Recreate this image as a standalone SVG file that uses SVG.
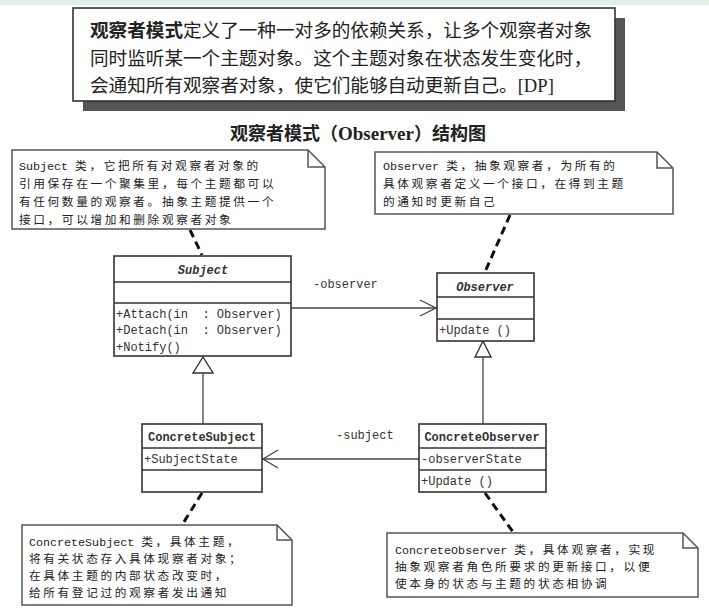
<svg xmlns="http://www.w3.org/2000/svg" width="709" height="610" viewBox="0 0 709 610">
<style>
.cjk{font-family:"Noto Sans CJK SC","Liberation Sans",sans-serif;fill:#222}
.note-t{font-family:"Noto Sans CJK SC",sans-serif;font-size:11.7px;letter-spacing:2.6px;fill:#222}
.lat{font-family:"Liberation Mono",monospace;font-size:11.7px;letter-spacing:0}
.cls{fill:#fff;stroke:#333;stroke-width:1.6}
.div{stroke:#333;stroke-width:1.4}
.mono{font-family:"Liberation Mono",monospace;font-size:12px;fill:#333;white-space:pre}
.note{fill:#fff;stroke:#555;stroke-width:1.5;stroke-linejoin:miter}
.dash{stroke:#111;stroke-width:3;stroke-dasharray:8,5;fill:none}
.conn{stroke:#444;stroke-width:1.3;fill:none}
</style>
<rect x="0" y="0" width="709" height="610" fill="#fff"/>
<rect x="0" y="0" width="709" height="5" fill="#e6efe6"/>
<g id="intro">
<rect x="83" y="18" width="542" height="93" fill="#555"/>
<rect x="73" y="8" width="542" height="93" fill="#fff" stroke="#333" stroke-width="1.6"/>
<text class="cjk" x="90" y="37" font-size="18.6"><tspan font-weight="bold">观察者模式</tspan>定义了一种一对多的依赖关系，让多个观察者对象</text>
<text class="cjk" x="90" y="65" font-size="18.6">同时监听某一个主题对象。这个主题对象在状态发生变化时，</text>
<text class="cjk" x="90" y="92" font-size="18.6">会通知所有观察者对象，使它们能够自动更新自己。<tspan font-family="Liberation Serif">[DP]</tspan></text>
</g>
<g id="title">
<text class="cjk" x="358" y="140" font-size="18" font-weight="bold" text-anchor="middle" fill="#111">观察者模式（<tspan font-family="Liberation Serif" font-size="19">Observer</tspan>）结构图</text>
</g>
<g id="connectors">
<line class="dash" x1="190" y1="230" x2="202" y2="255"/>
<line class="dash" x1="510" y1="215" x2="485" y2="272"/>
<line class="dash" x1="202" y1="493" x2="182" y2="525"/>
<line class="dash" x1="485" y1="493" x2="513" y2="532"/>
<line class="conn" x1="291" y1="308" x2="436" y2="308"/>
<polyline class="conn" points="420,300 436,308 420,316"/>
<text class="mono" x="313" y="288" fill="#444">-observer</text>
<line class="conn" x1="419" y1="459" x2="263" y2="459"/>
<polyline class="conn" points="278,450 263,459 278,468"/>
<text class="mono" x="336" y="439" fill="#444">-subject</text>
<line class="conn" x1="203" y1="373" x2="203" y2="424"/>
<polygon points="203,357 193,373 213,373" fill="#fff" stroke="#333" stroke-width="1.4"/>
<line class="conn" x1="483" y1="357" x2="483" y2="424"/>
<polygon points="483,341 475,357 491,357" fill="#fff" stroke="#333" stroke-width="1.4"/>
</g>
<g id="note-subject">
<path class="note" d="M12,150 H308 L325,167 V229 H12 Z M308,150 V167 H325"/>
<text class="note-t" x="19" y="169.5"><tspan class="lat">Subject </tspan>类，它把所有对观察者对象的</text>
<text class="note-t" x="19" y="187.5">引用保存在一个聚集里，每个主题都可以</text>
<text class="note-t" x="19" y="205.5">有任何数量的观察者。抽象主题提供一个</text>
<text class="note-t" x="19" y="223.5">接口，可以增加和删除观察者对象</text>
</g>
<g id="note-observer">
<path class="note" d="M375,152 H657 L673,168 V214 H375 Z M657,152 V168 H673"/>
<text class="note-t" x="383" y="169.5"><tspan class="lat">Observer </tspan>类，抽象观察者，为所有的</text>
<text class="note-t" x="383" y="187.5">具体观察者定义一个接口，在得到主题</text>
<text class="note-t" x="383" y="205.5">的通知时更新自己</text>
</g>
<g id="Subject">
<rect class="cls" x="114" y="256" width="177" height="100"/>
<line class="div" x1="114" y1="282" x2="291" y2="282"/>
<line class="div" x1="114" y1="303" x2="291" y2="303"/>
<text class="mono" x="203" y="274" text-anchor="middle" font-weight="bold" font-style="italic">Subject</text>
<text class="mono" x="116" y="318">+Attach(in  : Observer)</text>
<text class="mono" x="116" y="334">+Detach(in  : Observer)</text>
<text class="mono" x="116" y="351">+Notify()</text>
</g>
<g id="Observer">
<rect class="cls" x="437" y="273" width="97" height="68"/>
<line class="div" x1="437" y1="297" x2="534" y2="297"/>
<line class="div" x1="437" y1="319" x2="534" y2="319"/>
<text class="mono" x="485" y="291" text-anchor="middle" font-weight="bold" font-style="italic">Observer</text>
<text class="mono" x="439" y="334">+Update ()</text>
</g>
<g id="ConcreteSubject">
<rect class="cls" x="142" y="424" width="120" height="68"/>
<line class="div" x1="142" y1="448" x2="262" y2="448"/>
<line class="div" x1="142" y1="470" x2="262" y2="470"/>
<text class="mono" x="202" y="441" text-anchor="middle" font-weight="bold" fill="#222">ConcreteSubject</text>
<text class="mono" x="144" y="463">+SubjectState</text>
</g>
<g id="ConcreteObserver">
<rect class="cls" x="419" y="424" width="127" height="68"/>
<line class="div" x1="419" y1="448" x2="546" y2="448"/>
<line class="div" x1="419" y1="470" x2="546" y2="470"/>
<text class="mono" x="482" y="441" text-anchor="middle" font-weight="bold" fill="#222">ConcreteObserver</text>
<text class="mono" x="421" y="463">-observerState</text>
<text class="mono" x="421" y="485">+Update ()</text>
</g>
<g id="note-concretesubject">
<path class="note" d="M22,525 H277 L292,540 V605 H22 Z M277,525 V540 H292"/>
<text class="note-t" x="29" y="546"><tspan class="lat">ConcreteSubject </tspan>类，具体主题，</text>
<text class="note-t" x="29" y="563">将有关状态存入具体现察者对象；</text>
<text class="note-t" x="29" y="580">在具体主题的内部状态改变时，</text>
<text class="note-t" x="29" y="597">给所有登记过的观察者发出通知</text>
</g>
<g id="note-concreteobserver">
<path class="note" d="M387,533 H683 L698,548 V597 H387 Z M683,533 V548 H698"/>
<text class="note-t" x="395" y="554"><tspan class="lat">ConcreteObserver </tspan>类，具体观察者，实现</text>
<text class="note-t" x="395" y="571">抽象观察者角色所要求的更新接口，以便</text>
<text class="note-t" x="395" y="588">使本身的状态与主题的状态相协调</text>
</g>
</svg>
